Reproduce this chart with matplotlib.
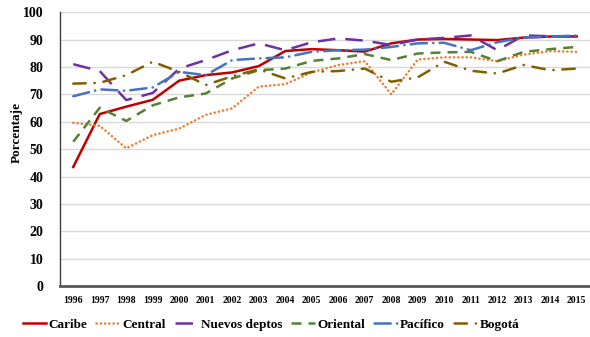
import matplotlib
matplotlib.use("Agg")
import matplotlib.pyplot as plt

years = list(range(1996, 2016))

caribe = [43.5, 62.8, 65.5, 68.0, 75.0, 77.0, 78.0, 80.3, 85.8, 86.5,
          86.1, 85.6, 88.6, 90.0, 90.2, 90.0, 89.8, 90.7, 91.1, 91.1]
central = [59.6, 58.5, 50.3, 55.1, 57.5, 62.5, 64.9, 72.8, 73.7, 78.0,
           80.7, 82.1, 70.0, 82.7, 83.5, 83.5, 82.1, 84.5, 85.8, 85.5]
nuevos = [81.0, 78.5, 67.9, 70.5, 79.4, 82.5, 86.1, 88.6, 86.1, 89.0,
          90.4, 89.6, 88.0, 90.0, 90.6, 91.5, 86.1, 91.5, 91.2, 91.2]
oriental = [52.7, 65.1, 60.3, 66.0, 68.9, 70.3, 75.8, 78.8, 79.4, 82.2,
            83.1, 84.7, 82.5, 84.9, 85.3, 85.5, 82.1, 85.5, 86.5, 87.3]
pacifico = [69.3, 71.8, 71.3, 72.5, 78.2, 77.0, 82.5, 83.1, 83.5, 85.5,
            86.1, 86.3, 87.3, 88.6, 88.8, 86.1, 89.0, 90.8, 91.0, 91.5]
bogota = [73.9, 74.2, 77.0, 81.9, 78.2, 73.4, 76.6, 79.1, 75.8, 78.2,
          78.5, 79.4, 74.6, 76.2, 81.9, 78.6, 77.6, 80.7, 78.8, 79.4]

series = [
    ("Caribe", caribe, "#C00000", "-"),
    ("Central", central, "#ED7D31", (0, (0.1, 1.6))),
    ("Nuevos deptos", nuevos, "#7030A0", (0, (7, 4))),
    ("Oriental", oriental, "#548235", (0, (4, 2.8))),
    ("Pacífico", pacifico, "#4472C4", (0, (6.5, 2.5, 0.1, 2.5))),
    ("Bogotá", bogota, "#7F6000", (0, (5, 3.5, 0.1, 3.5))),
]

plt.rcParams['font.family'] = ['Liberation Serif', 'DejaVu Serif']
plt.rcParams['font.weight'] = 'bold'

fig = plt.figure(figsize=(5.9, 3.37), dpi=100)
ax = fig.add_axes([0.1017, 0.151, 0.8983, 0.813])

x = list(range(len(years)))
for name, vals, color, ls in series:
    line, = ax.plot(x, vals, color=color, linestyle=ls, linewidth=1.8, label=name)
    if name in ("Central", "Pacífico", "Bogotá"):
        line.set_dash_capstyle('round')

ax.set_xlim(-0.5, len(years) - 0.5)
ax.set_ylim(0, 100)
ax.set_yticks(range(0, 101, 10))
ax.set_xticks(x)
ax.set_xticklabels([str(y) for y in years], fontsize=7, fontweight='bold')
for lbl in ax.get_yticklabels():
    lbl.set_fontsize(10)
    lbl.set_fontweight('bold')
ax.tick_params(axis='both', length=0)
ax.tick_params(axis='x', pad=7)
ax.tick_params(axis='y', pad=12)

ax.grid(axis='y', color='#D9D9D9', linewidth=1)
ax.set_axisbelow(True)
for s in ['top', 'right']:
    ax.spines[s].set_visible(False)
ax.spines['left'].set_color('#404040')
ax.spines['left'].set_linewidth(1)
ax.spines['bottom'].set_color('#595959')
ax.spines['bottom'].set_linewidth(2)

ax.set_ylabel('Porcentaje', fontsize=9.5, fontweight='bold')
ax.yaxis.set_label_coords(-0.07, 0.56)

ax.legend(loc='upper center', bbox_to_anchor=(0.398, -0.1), ncol=6, frameon=False,
          fontsize=9.5, handlelength=1.8, handletextpad=0.15, columnspacing=0.7,
          borderaxespad=0)

fig.savefig('out.png', dpi=100)
